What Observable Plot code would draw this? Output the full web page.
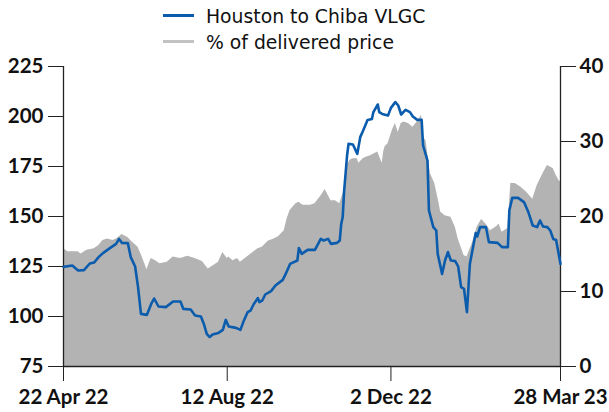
<!DOCTYPE html>
<html><head><meta charset="utf-8">
<script src="https://cdn.jsdelivr.net/npm/d3@7"></script>
<script src="https://cdn.jsdelivr.net/npm/@observablehq/plot@0.6"></script>
<style>
body{margin:0;background:#fff;}
#legend{display:block;}
#chart svg{display:block;overflow:visible;}
</style></head><body>
<svg id="legend" width="609" height="56"></svg>
<div id="chart"></div>
<script>
const seriesNames = ["Houston to Chiba VLGC", "% of delivered price"];
const seriesColors = ["#0b5cad", "#b3b3b3"];
const leftTicks = [75, 100, 125, 150, 175, 200, 225];
const rightTicks = [0, 10, 20, 30, 40];
const xTickDates = ["2022-04-22", "2022-08-12", "2022-12-02", "2023-03-28"];

const vlgcDates = ["2022-04-22","2022-04-28","2022-05-02","2022-05-06","2022-05-10","2022-05-13","2022-05-16","2022-05-19","2022-05-24","2022-05-28","2022-05-30","2022-06-01","2022-06-05","2022-06-07","2022-06-10","2022-06-12","2022-06-14","2022-06-18","2022-06-21","2022-06-23","2022-06-26","2022-07-01","2022-07-06","2022-07-11","2022-07-13","2022-07-18","2022-07-21","2022-07-25","2022-07-27","2022-07-29","2022-07-31","2022-08-02","2022-08-06","2022-08-09","2022-08-11","2022-08-13","2022-08-18","2022-08-21","2022-08-23","2022-08-26","2022-08-28","2022-08-30","2022-09-02","2022-09-03","2022-09-05","2022-09-07","2022-09-11","2022-09-14","2022-09-19","2022-09-21","2022-09-24","2022-09-29","2022-09-30","2022-10-02","2022-10-06","2022-10-11","2022-10-15","2022-10-17","2022-10-20","2022-10-22","2022-10-26","2022-10-28","2022-10-29","2022-10-30","2022-10-31","2022-11-02","2022-11-03","2022-11-06","2022-11-09","2022-11-11","2022-11-13","2022-11-16","2022-11-19","2022-11-20","2022-11-23","2022-11-24","2022-11-26","2022-11-30","2022-12-02","2022-12-05","2022-12-07","2022-12-09","2022-12-12","2022-12-15","2022-12-17","2022-12-20","2022-12-23","2022-12-24","2022-12-27","2022-12-28","2022-12-31","2023-01-02","2023-01-03","2023-01-06","2023-01-08","2023-01-10","2023-01-12","2023-01-15","2023-01-17","2023-01-19","2023-01-21","2023-01-23","2023-01-25","2023-01-29","2023-01-30","2023-02-01","2023-02-05","2023-02-07","2023-02-13","2023-02-16","2023-02-20","2023-02-21","2023-02-23","2023-02-27","2023-03-03","2023-03-06","2023-03-09","2023-03-12","2023-03-14","2023-03-16","2023-03-19","2023-03-21","2023-03-23","2023-03-25","2023-03-28"];
const vlgcValues = [124.8,125.5,123.0,123.2,126.5,127.0,129.7,131.7,134.3,136.3,138.8,136.8,136.7,129.7,125.0,114.7,101.3,100.8,106.3,109.0,105.0,104.7,107.5,107.5,103.8,103.5,100.5,100.0,96.3,91.3,89.7,91.0,91.8,93.3,98.3,95.0,94.3,93.3,97.2,102.2,103.0,106.0,109.2,107.2,108.0,111.0,112.7,115.5,118.3,121.3,126.3,128.0,134.2,131.3,133.3,133.3,138.8,138.0,138.8,136.3,136.8,138.0,146.3,149.7,163.0,180.5,186.3,186.0,181.3,189.7,193.0,198.3,198.8,202.2,206.0,202.2,201.3,200.5,204.3,207.2,205.5,201.0,203.3,202.2,200.0,198.3,198.3,185.5,178.0,153.0,144.7,143.0,131.3,121.3,128.0,132.2,128.0,127.7,125.0,114.7,113.8,102.2,126.3,141.7,140.0,144.7,144.7,137.2,136.8,134.7,134.7,153.0,159.3,159.3,157.2,152.2,145.5,144.7,148.0,145.0,144.7,143.0,138.8,138.3,126.3];

const pctDates = ["2022-04-22","2022-04-25","2022-05-02","2022-05-04","2022-05-08","2022-05-13","2022-05-16","2022-05-19","2022-05-22","2022-05-26","2022-05-29","2022-06-01","2022-06-05","2022-06-08","2022-06-12","2022-06-14","2022-06-17","2022-06-18","2022-06-21","2022-06-24","2022-06-27","2022-07-02","2022-07-06","2022-07-11","2022-07-16","2022-07-21","2022-07-26","2022-07-30","2022-08-03","2022-08-06","2022-08-09","2022-08-12","2022-08-13","2022-08-16","2022-08-19","2022-08-21","2022-08-25","2022-08-29","2022-09-02","2022-09-05","2022-09-09","2022-09-13","2022-09-16","2022-09-20","2022-09-22","2022-09-24","2022-09-28","2022-09-30","2022-10-03","2022-10-08","2022-10-11","2022-10-15","2022-10-18","2022-10-22","2022-10-25","2022-10-28","2022-10-31","2022-11-02","2022-11-04","2022-11-06","2022-11-09","2022-11-10","2022-11-13","2022-11-15","2022-11-18","2022-11-21","2022-11-23","2022-11-26","2022-11-27","2022-11-28","2022-11-30","2022-12-03","2022-12-05","2022-12-07","2022-12-09","2022-12-11","2022-12-14","2022-12-17","2022-12-20","2022-12-23","2022-12-24","2022-12-26","2022-12-29","2023-01-01","2023-01-04","2023-01-05","2023-01-08","2023-01-12","2023-01-15","2023-01-17","2023-01-21","2023-01-23","2023-01-27","2023-01-30","2023-02-02","2023-02-05","2023-02-08","2023-02-12","2023-02-14","2023-02-16","2023-02-20","2023-02-22","2023-02-25","2023-03-01","2023-03-05","2023-03-09","2023-03-12","2023-03-16","2023-03-19","2023-03-23","2023-03-25","2023-03-27","2023-03-28"];
const pctValues = [15.7,15.3,15.3,15.0,15.5,15.7,16.1,16.8,17.0,16.8,17.1,17.6,17.2,16.6,15.9,15.0,13.5,12.9,14.4,14.1,13.7,13.9,14.6,14.4,14.7,14.4,14.0,13.0,13.5,13.9,15.2,14.4,14.6,14.1,14.4,13.9,14.5,15.1,15.7,15.9,16.7,17.0,17.3,18.1,19.7,20.8,21.7,21.9,21.5,21.5,21.7,22.7,23.6,22.1,22.1,21.7,23.5,26.8,27.5,27.7,27.7,27.1,27.7,27.9,28.1,28.4,28.6,27.1,28.6,29.3,29.7,31.5,32.4,31.2,32.4,32.6,32.4,31.9,32.6,33.5,30.6,30.1,25.7,24.4,21.7,20.6,20.1,19.9,18.6,17.0,14.8,14.6,16.6,18.6,19.6,19.0,18.1,18.6,19.0,17.9,18.4,24.4,24.4,23.9,23.2,22.3,24.1,25.7,26.8,26.4,25.5,24.8,24.6];

const parse = d3.utcParse("%Y-%m-%d");
const toLeft = d3.scaleLinear().domain([rightTicks[0], rightTicks[rightTicks.length - 1]]).range([leftTicks[0], leftTicks[leftTicks.length - 1]]);
const vlgc = vlgcDates.map((d, i) => ({date: parse(d), value: vlgcValues[i]}));
const pct = pctDates.map((d, i) => ({date: parse(d), pct: pctValues[i], left: toLeft(pctValues[i])}));
const xTicks = xTickDates.map(parse);
const xDomain = [xTicks[0], xTicks[xTicks.length - 1]];

// Legend
const leg = d3.select("#legend");
seriesNames.forEach((name, i) => {
  const y = i === 0 ? 15.5 : 41.5;
  leg.append("line").attr("x1", 163).attr("x2", 194).attr("y1", y).attr("y2", y)
    .attr("stroke", i === 0 ? seriesColors[0] : "#c2c2c2").attr("stroke-width", 3);
  leg.append("text").attr("x", 206).attr("y", y + 7.8).text(name)
    .attr("font-family", "DejaVu Sans").attr("font-size", "18.8px").attr("fill", "#111");
});

const chart = Plot.plot({
  width: 609,
  height: 356,
  marginLeft: 63,
  marginRight: 49,
  marginTop: 10,
  marginBottom: 46,
  style: {fontFamily: "Lato", fontSize: "20.5px", fontWeight: "bold", color: "#111", background: "#fff", overflow: "visible"},
  x: {type: "utc", domain: xDomain},
  y: {domain: [leftTicks[0], leftTicks[leftTicks.length - 1]]},
  marks: [
    Plot.areaY(pct, {x: "date", y1: leftTicks[0], y2: "left", fill: seriesColors[1], curve: "linear"}),
    Plot.ruleX(xDomain, {stroke: "#222", strokeWidth: 1.3}),
    Plot.ruleY([leftTicks[0]], {stroke: "#222", strokeWidth: 1.3}),
    Plot.line(vlgc, {x: "date", y: "value", stroke: seriesColors[0], strokeWidth: 2.6, strokeLinejoin: "round"}),
    Plot.axisY({anchor: "left", ticks: leftTicks, tickSize: 15, tickPadding: 5, label: null, stroke: "#222"}),
    Plot.axisY({anchor: "right", ticks: rightTicks.map(toLeft), tickFormat: d => String(Math.round(toLeft.invert(d))), tickSize: 15, tickPadding: 4, label: null, stroke: "#222"}),
    Plot.axisX({ticks: xTicks, tickFormat: d3.utcFormat("%-d %b %y"), tickSize: 15, tickPadding: 8, label: null, stroke: "#222"})
  ]
});
document.getElementById("chart").appendChild(chart);
</script>
</body></html>
